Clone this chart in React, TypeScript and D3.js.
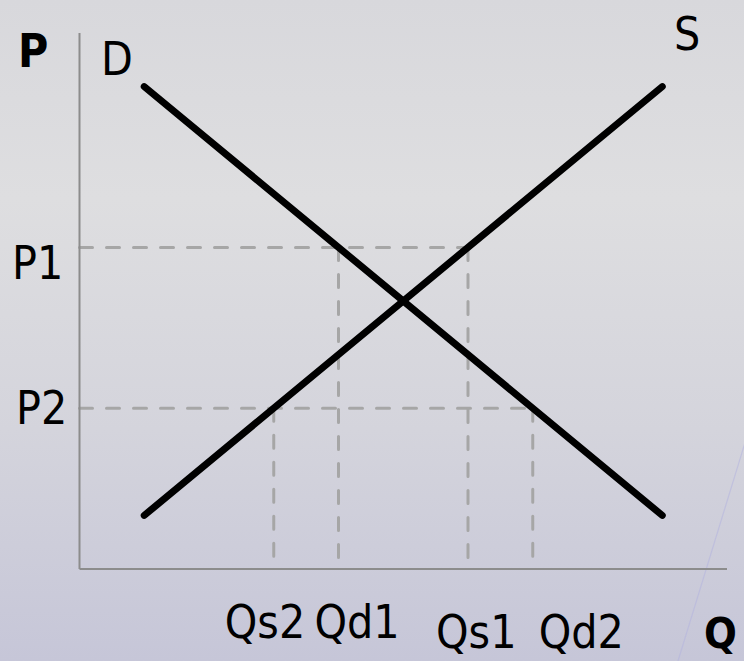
import React from "react";
import * as d3 from "d3";

// ---- data ----
const demandQ = [1, 9];
const demandP = [9, 1];
const supplyQ = [1, 9];
const supplyP = [1, 9];
const priceLabels = ["P1", "P2"];
const priceValues = [6, 3];
const priceLineEndQ = [6, 7]; // horizontal dashed line runs to this quantity
const quantityLabels = ["Qs2", "Qd1", "Qs1", "Qd2"];
const quantityValues = [3, 4, 6, 7];
const quantityLinePrice = [3, 6, 6, 3]; // vertical dashed line starts at this price
const curveLabels = ["D", "S"];

const W = 744;
const H = 661;
const FONT = "'DejaVu Sans Condensed', 'DejaVu Sans', sans-serif";

export default function App() {
  const x = d3.scaleLinear().domain([0, 10]).range([79.5, 727]);
  const y = d3.scaleLinear().domain([0, 10]).range([569, 33]);
  const line = d3
    .line<[number, number]>()
    .x((d) => x(d[0]))
    .y((d) => y(d[1]));

  const demand = demandQ.map((q, i) => [q, demandP[i]] as [number, number]);
  const supply = supplyQ.map((q, i) => [q, supplyP[i]] as [number, number]);

  // layout offsets for labels (px)
  const pLabelPos = [
    { x: 12, dy: 32 },
    { x: 16, dy: 16 },
  ];
  const qLabelPos = [
    { dx: -49, y: 638 },
    { dx: -24, y: 638 },
    { dx: -32, y: 648 },
    { dx: 6, y: 648 },
  ];
  const curveLabelPos = [
    { x: 101, y: 75 },
    { x: 674, y: 50 },
  ];

  const dash = { stroke: "#a6a6a6", strokeWidth: 3, strokeDasharray: "13 14", strokeLinecap: "round" as const, fill: "none" };

  return (
    <svg
      width={W}
      height={H}
      style={{ position: "absolute", left: 0, top: 0, display: "block" }}
      fontFamily={FONT}
    >
      <defs>
        <linearGradient id="bg" x1="0" y1="0" x2="0" y2="1">
          <stop offset="0%" stopColor="#d8d8dc" />
          <stop offset="30%" stopColor="#dedee0" />
          <stop offset="65%" stopColor="#d4d4dc" />
          <stop offset="100%" stopColor="#c6c6d8" />
        </linearGradient>
      </defs>
      <rect x={0} y={0} width={W} height={H} fill="url(#bg)" />
      {/* faint decorative diagonal */}
      <line x1={752} y1={420} x2={678} y2={661} stroke="#b4b4e0" strokeWidth={1.2} opacity={0.55} />

      {/* dashed guides */}
      {priceValues.map((p, i) => (
        <path key={"h" + i} d={line([[0, p], [priceLineEndQ[i], p]]) || ""} {...dash} />
      ))}
      {quantityValues.map((q, i) => (
        <path key={"v" + i} d={line([[q, quantityLinePrice[i]], [q, 0]]) || ""} {...dash} />
      ))}

      {/* axes */}
      <line x1={x(0)} y1={y(10)} x2={x(0)} y2={y(0)} stroke="#8c8c8c" strokeWidth={2} />
      <line x1={x(0)} y1={y(0)} x2={x(10)} y2={y(0)} stroke="#8c8c8c" strokeWidth={2} />

      {/* curves */}
      <path d={line(demand) || ""} stroke="#000" strokeWidth={7} strokeLinecap="round" fill="none" />
      <path d={line(supply) || ""} stroke="#000" strokeWidth={7} strokeLinecap="round" fill="none" />

      {/* labels */}
      <text x={18} y={67} fontSize={46} fontWeight="bold" fill="#000">P</text>
      <text x={704} y={648} fontSize={43} fontWeight="bold" fill="#000">Q</text>
      {curveLabels.map((t, i) => (
        <text key={t} x={curveLabelPos[i].x} y={curveLabelPos[i].y} fontSize={46} fill="#000">{t}</text>
      ))}
      {priceLabels.map((t, i) => (
        <text key={t} x={pLabelPos[i].x} y={y(priceValues[i]) + pLabelPos[i].dy} fontSize={46} fill="#000">{t}</text>
      ))}
      {quantityLabels.map((t, i) => (
        <text key={t} x={x(quantityValues[i]) + qLabelPos[i].dx} y={qLabelPos[i].y} fontSize={46} fill="#000">{t}</text>
      ))}
    </svg>
  );
}
